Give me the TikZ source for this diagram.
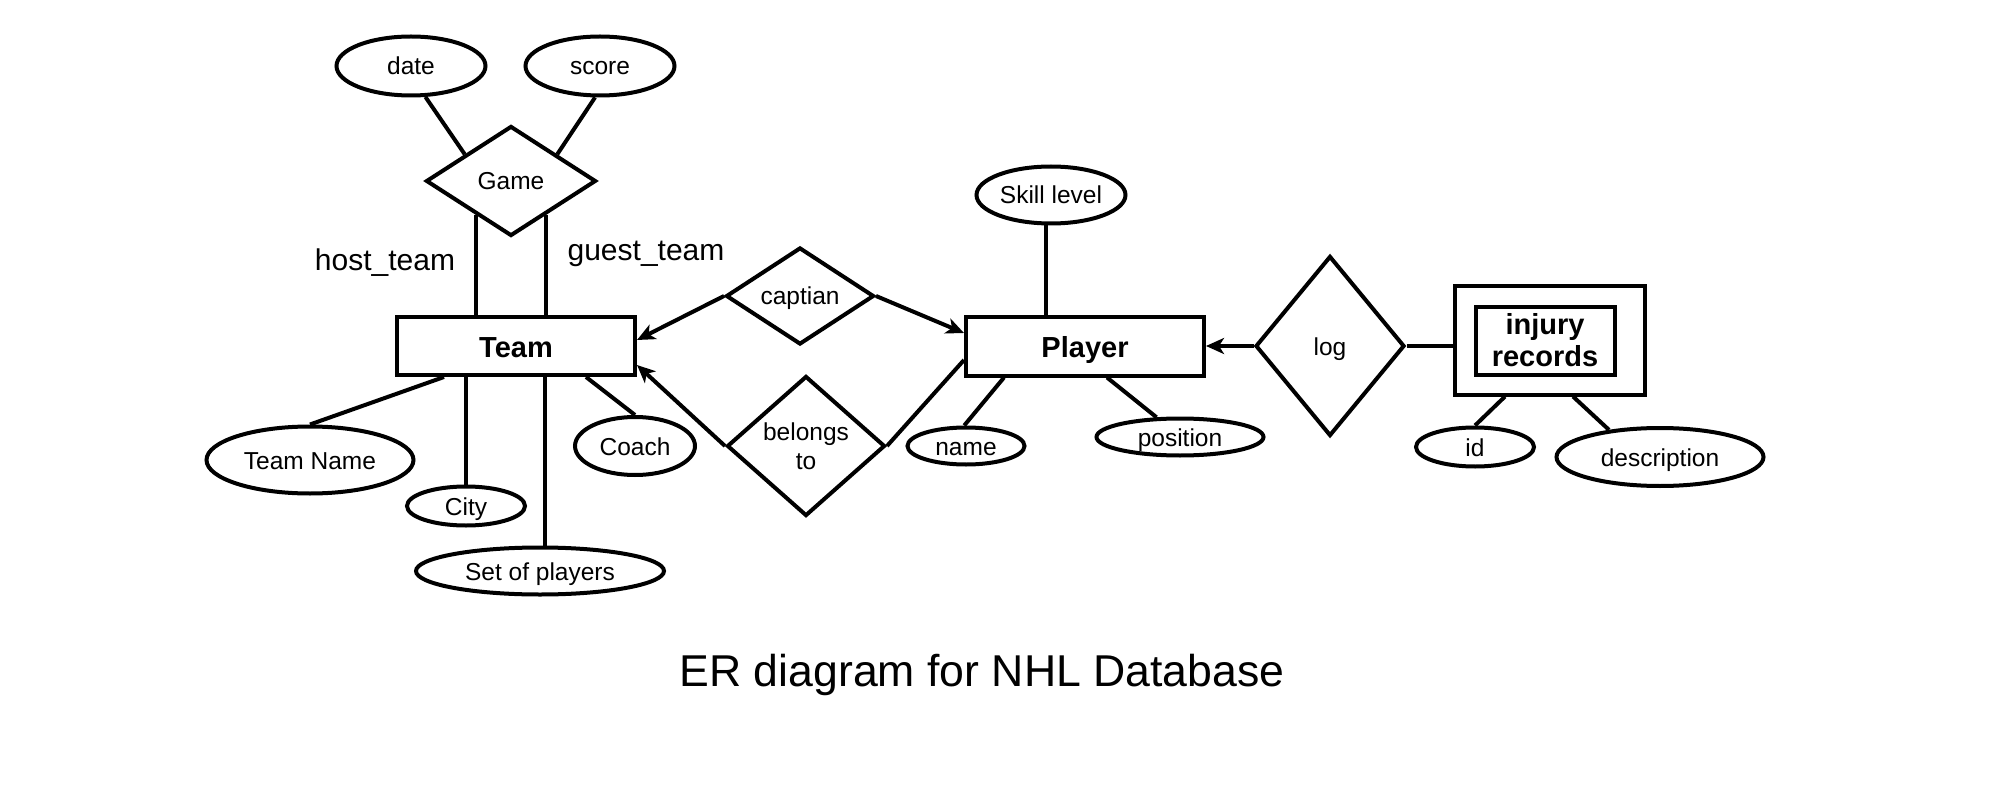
\documentclass[tikz,border=0pt]{standalone}
\usepackage{fontspec}
\setmainfont{Liberation Sans}
\usetikzlibrary{shapes.geometric,arrows.meta}
\tikzset{
  attr/.style={ellipse, draw, line width=4pt, inner sep=0pt, text height=18pt, text depth=0pt, font=\fontsize{24.5}{29}\selectfont},
  rel/.style={diamond, draw, line width=4pt, inner sep=0pt, align=center, font=\fontsize{24.5}{29}\selectfont},
  onel/.style={text height=18pt, text depth=0pt},
  ent/.style={rectangle, draw, line width=4pt, inner sep=0pt, align=center, font=\bfseries\fontsize{29}{32}\selectfont},
  onee/.style={text height=22pt, text depth=0pt},
  lbl/.style={inner sep=0pt, font=\fontsize{30}{36}\selectfont},
  conn/.style={line width=4pt},
  arr/.style={line width=4pt, -{Stealth[length=18pt,width=16pt,inset=5pt]}},
}
\begin{document}
\begin{tikzpicture}[x=1pt,y=-1pt]
\useasboundingbox (0,0) rectangle (2010,810);
% nodes
\node[attr, minimum width=149pt, minimum height=59pt] (date) at (411,66) {date};
\node[attr, minimum width=149pt, minimum height=59pt] (score) at (600,66) {score};
\node[rel, onel, minimum width=170pt, minimum height=110pt] (game) at (511,181) {Game};
\node[ent, onee, minimum width=238pt, minimum height=58pt] (team) at (516,346) {Team};
\node[attr, minimum width=207pt, minimum height=67pt] (tname) at (310,460) {Team Name};
\node[attr, minimum width=118pt, minimum height=39pt] (city) at (466,506) {City};
\node[attr, minimum width=248pt, minimum height=47pt] (setp) at (540,571) {Set of players};
\node[attr, minimum width=120pt, minimum height=58pt] (coach) at (635,446) {Coach};
\node[rel, onel, minimum width=148pt, minimum height=80pt] (cap) at (800,296) {captian};
\node[rel, minimum width=158pt, minimum height=140pt] (bel) at (806,446) {belongs\\to};
\node[ent, onee, minimum width=238pt, minimum height=59pt] (player) at (1085,346) {Player};
\node[attr, minimum width=149pt, minimum height=57pt] (skill) at (1051,195) {Skill level};
\node[attr, minimum width=117pt, minimum height=37pt] (name) at (966,446) {name};
\node[attr, minimum width=167pt, minimum height=37pt] (position) at (1180,437) {position};
\node[rel, onel, minimum width=149pt, minimum height=180pt] (log) at (1330,346) {log};
\node[ent, minimum width=190pt, minimum height=108pt] (injout) at (1550,340.5) {};
\node[ent, minimum width=139pt, minimum height=68pt] (injin) at (1545,340.5) {injury\\records};
\node[attr, minimum width=118pt, minimum height=39pt] (id) at (1475,447) {id};
\node[attr, minimum width=207pt, minimum height=58pt] (desc) at (1660,457) {description};
\node[lbl] (host) at (385,263) {host\_team};
\node[lbl] (guest) at (646,254) {guest\_team};
\node[inner sep=0pt, font=\fontsize{44.6}{52}\selectfont] (title) at (982,675) {ER diagram for NHL Database};
% connectors
\draw[conn] (date.-65) -- (game.150);
\draw[conn] (score.-99) -- (game.30);
\draw[conn] (game.-136.7) -- (game.-136.7 |- team.north);
\draw[conn] (game.-44) -- (game.-44 |- team.north);
\draw[conn] (tname.north) -- ([xshift=-72pt]team.south);
\draw[conn] (city.north) -- (city.north |- team.south);
\draw[conn] ([xshift=5pt]setp.north) -- ([xshift=5pt]setp.north |- team.south);
\draw[conn] (coach.north) -- ([xshift=70pt]team.south);
\draw[arr] (cap.west) -- ([yshift=6pt]team.east);
\draw[arr] (cap.east) -- ([yshift=13pt]player.west);
\draw[arr] (bel.west) -- ([yshift=-19pt]team.east);
\draw[conn] (bel.east) -- ([yshift=-14pt]player.west);
\draw[conn] ([xshift=-5pt]skill.south) -- ([xshift=-5pt]skill.south |- player.north);
\draw[conn] (name.95) -- ([xshift=-81pt]player.south);
\draw[conn] (position.140) -- ([xshift=22pt]player.south);
\draw[arr] (log.west) -- (player.east);
\draw[conn] (log.east) -- (log.east -| injout.west);
\draw[conn] (id.north) -- ([xshift=-45pt]injout.south);
\draw[conn] (desc.152) -- ([xshift=23pt]injout.south);
\end{tikzpicture}
\end{document}
